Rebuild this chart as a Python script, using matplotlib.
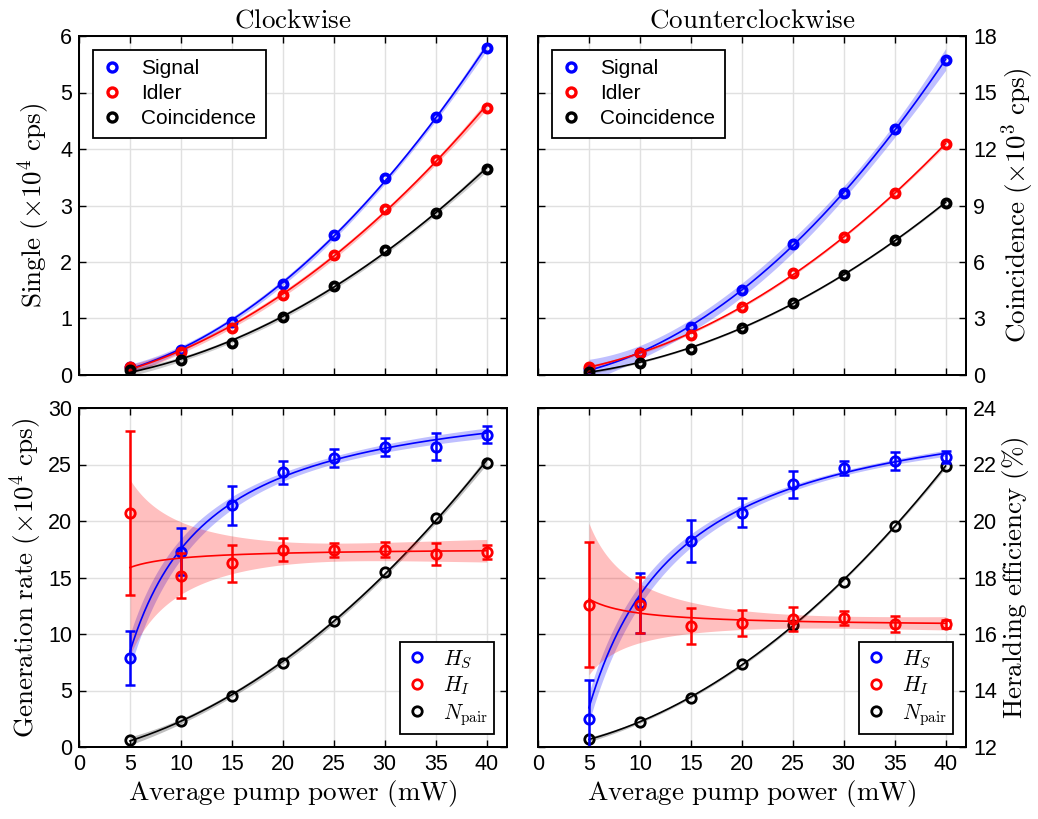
import numpy as np
import matplotlib.pyplot as plt
from matplotlib.lines import Line2D

plt.rcParams['font.family'] = ['Liberation Sans', 'DejaVu Sans']
plt.rcParams['mathtext.fontset'] = 'cm'

# pump power (mW)
power = np.array([5, 10, 15, 20, 25, 30, 35, 40])

# single counts (x10^4 cps), coincidences (x10^3 cps)
cw_signal = [0.15, 0.44, 0.93, 1.61, 2.47, 3.49, 4.57, 5.78]
cw_idler = [0.14, 0.41, 0.83, 1.41, 2.12, 2.93, 3.81, 4.73]
cw_coinc = [0.24, 0.80, 1.70, 3.06, 4.73, 6.64, 8.62, 10.92]

ccw_signal = [0.10, 0.39, 0.85, 1.50, 2.32, 3.22, 4.35, 5.57]
ccw_idler = [0.15, 0.39, 0.71, 1.21, 1.80, 2.44, 3.22, 4.09]
ccw_coinc = [0.18, 0.66, 1.39, 2.50, 3.83, 5.33, 7.15, 9.14]

# heralding efficiency (%) with errors, pair generation rate (x10^4 cps)
cw_hs = [15.14, 18.92, 20.55, 21.72, 22.23, 22.62, 22.63, 23.06]
cw_hs_err = [0.96, 0.84, 0.69, 0.41, 0.31, 0.33, 0.47, 0.31]
cw_hi = [20.29, 18.06, 18.50, 18.99, 18.96, 18.99, 18.84, 18.89]
cw_hi_err = [2.90, 0.80, 0.66, 0.41, 0.25, 0.27, 0.38, 0.25]
cw_npair = [0.65, 2.28, 4.49, 7.39, 11.14, 15.49, 20.25, 25.13]

ccw_hs = [13.00, 17.11, 19.29, 20.30, 21.30, 21.87, 22.13, 22.27]
ccw_hs_err = [1.38, 1.06, 0.75, 0.53, 0.47, 0.24, 0.31, 0.20]
ccw_hi = [17.04, 17.04, 16.28, 16.40, 16.52, 16.56, 16.35, 16.35]
ccw_hi_err = [2.22, 0.99, 0.63, 0.46, 0.43, 0.25, 0.27, 0.15]
ccw_npair = [0.71, 2.18, 4.35, 7.36, 10.84, 14.63, 19.56, 24.88]

BLUE = '#0000ff'
RED = '#ff0000'
xf = np.linspace(5, 40, 200)


def poly_fit(x, y, k=2.0):
    # quadratic fit with confidence band
    p, C = np.polyfit(x, y, 2, cov=True)
    V = np.vander(xf, 3)
    s = np.sqrt(np.einsum('ij,jk,ik->i', V, C, V))
    return V @ p, k * s


def herald_fit(x, h, err, k=2.0):
    # H = a x / (x + b)  ->  1/H linear in 1/x
    h = np.asarray(h)
    err = np.asarray(err)
    p, C = np.polyfit(1 / x, 1 / h, 1, w=h**2 / err, cov='unscaled')
    V = np.vander(1 / xf, 2)
    z = V @ p
    sz = np.sqrt(np.einsum('ij,jk,ik->i', V, C, V))
    hf = 1 / z
    return hf, k * hf**2 * sz


def curve(ax, yf, color, band, alpha=0.25):
    ax.fill_between(xf, yf - band, yf + band, color=color, alpha=alpha, lw=0)
    ax.plot(xf, yf, color=color, lw=1.2)


def style(ax, twin, show_left, xlabels):
    ax.set_xlim(0, 42)
    ax.set_xticks(range(0, 45, 5))
    ax.grid(True, color='0.88', lw=1)
    ax.set_axisbelow(True)
    ax.tick_params(direction='in', length=5, width=1, top=True, right=False,
                   labelsize=15.5, labelleft=show_left, labelbottom=xlabels, pad=5)
    twin.tick_params(direction='in', length=5, width=1, labelsize=15.5,
                     labelright=not show_left, pad=5)
    for a in (ax, twin):
        for sp in a.spines.values():
            sp.set_linewidth(1.4)


fig = plt.figure(figsize=(10.38, 8.19), dpi=100)
W, H = 1038, 819
pos = {
    'tl': [79 / W, 1 - 375 / H, 428 / W, 339 / H],
    'tr': [538 / W, 1 - 375 / H, 428 / W, 339 / H],
    'bl': [79 / W, 1 - 747 / H, 428 / W, 339 / H],
    'br': [538 / W, 1 - 747 / H, 428 / W, 339 / H],
}
lab_kw = dict(fontsize=19.5)

# ---- top row: single and coincidence counts ----
top = [('tl', 'Clockwise', cw_signal, cw_idler, cw_coinc, 2.0),
       ('tr', 'Counterclockwise', ccw_signal, ccw_idler, ccw_coinc, 10.0)]
for key, title, sig, idl, coi, k_sig in top:
    left = key == 'tl'
    ax = fig.add_axes(pos[key])
    tw = ax.twinx()
    for y, c, k in [(sig, BLUE, k_sig), (idl, RED, 2.0)]:
        yf, b = poly_fit(power, y, k)
        curve(ax, yf, c, b)
        ax.plot(power, y, 'o', color=c, mfc='none', ms=5.8, mew=2.8)
    yf, b = poly_fit(power, coi)
    curve(tw, yf, 'k', b, alpha=0.2)
    tw.plot(power, coi, 'o', color='k', mfc='none', ms=5.8, mew=2.8)
    ax.set_ylim(0, 6)
    tw.set_ylim(0, 18)
    ax.set_yticks(range(0, 7))
    tw.set_yticks(range(0, 19, 3))
    style(ax, tw, left, False)
    ax.set_title(r'$\mathrm{' + title + '}$', fontsize=19.5, pad=6)
    if left:
        ax.set_ylabel(r'$\mathrm{Single}\ (\times 10^4\ \mathrm{cps})$', labelpad=6, **lab_kw)
    else:
        tw.set_ylabel(r'$\mathrm{Coincidence}\ (\times 10^3\ \mathrm{cps})$', labelpad=2, **lab_kw)
    handles = [Line2D([], [], ls='none', marker='o', color=c, mfc='none', ms=6.5, mew=2.4)
               for c in (BLUE, RED, 'k')]
    leg = tw.legend(handles, ['Signal', 'Idler', 'Coincidence'], loc='upper left',
                    fontsize=15, frameon=True, fancybox=False, framealpha=1,
                    edgecolor='k', handlelength=1.0, handletextpad=0.9,
                    borderpad=0.45, labelspacing=0.3, borderaxespad=0.65)
    leg.get_frame().set_linewidth(1.3)

# ---- bottom row: heralding efficiency and pair generation rate ----
bottom = [('bl', cw_hs, cw_hs_err, cw_hi, cw_hi_err, cw_npair, 0.9, 2.5),
          ('br', ccw_hs, ccw_hs_err, ccw_hi, ccw_hi_err, ccw_npair, 0.7, 2.0)]
for key, hs, hse, hi, hie, npair, k_hs, k_hi in bottom:
    left = key == 'bl'
    ax = fig.add_axes(pos[key])
    tw = ax.twinx()
    yf, b = poly_fit(power, npair)
    curve(ax, yf, 'k', b, alpha=0.25)
    ax.plot(power, npair, 'o', color='k', mfc='none', ms=6.8, mew=2)
    for y, e, c, k in [(hs, hse, BLUE, k_hs), (hi, hie, RED, k_hi)]:
        hf, b = herald_fit(power, y, e, k)
        curve(tw, hf, c, b)
        tw.errorbar(power, y, yerr=e, fmt='none', ecolor=c, elinewidth=1.8,
                    capsize=3.5, capthick=1.8)
        tw.plot(power, y, 'o', color=c, mfc='none', ms=6.8, mew=2)
    ax.set_ylim(0, 30)
    tw.set_ylim(12, 24)
    ax.set_yticks(range(0, 31, 5))
    tw.set_yticks(range(12, 25, 2))
    style(ax, tw, left, True)
    ax.set_xlabel(r'$\mathrm{Average\ pump\ power\ (mW)}$', labelpad=2, **lab_kw)
    if left:
        ax.set_ylabel(r'$\mathrm{Generation\ rate}\ (\times 10^4\ \mathrm{cps})$', labelpad=3, **lab_kw)
    else:
        tw.set_ylabel(r'$\mathrm{Heralding\ efficiency}\ (\%)$', labelpad=2, **lab_kw)
    handles = [Line2D([], [], ls='none', marker='o', color=c, mfc='none', ms=6.8, mew=2)
               for c in (BLUE, RED, 'k')]
    leg = tw.legend(handles, [r'$H_S$', r'$H_I$', r'$N_\mathrm{pair}$'], loc='lower right',
                    fontsize=15.5, frameon=True, fancybox=False, framealpha=1,
                    edgecolor='k', handlelength=1.0, handletextpad=0.7,
                    borderpad=0.3, labelspacing=0.2, borderaxespad=0.6)
    leg.get_frame().set_linewidth(1.3)

fig.savefig('out.png', dpi=100)
